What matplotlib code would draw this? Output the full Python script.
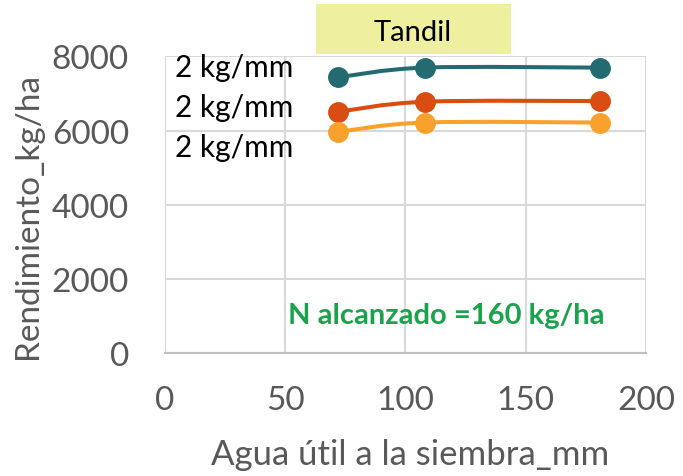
import numpy as np
import matplotlib
matplotlib.use("Agg")
import matplotlib.pyplot as plt
from matplotlib.path import Path
from matplotlib.patches import PathPatch, Rectangle

plt.rcParams['font.family'] = ['Lato', 'DejaVu Sans']

# data
agua = [72, 108, 181]
serie_alta = [7440, 7700, 7700]
serie_media = [6510, 6780, 6800]
serie_baja = [5970, 6220, 6220]
colores = ['#236B70', '#D94C12', '#F9A12C']
etiquetas = ['2 kg/mm', '2 kg/mm', '2 kg/mm']
xticks = [0, 50, 100, 150, 200]
yticks = [0, 2000, 4000, 6000, 8000]

gris = '#595959'


def smooth_path(x, y):
    # Excel-like smoothed line: Catmull-Rom as cubic bezier segments
    p = np.column_stack([x, y]).astype(float)
    n = len(p)
    verts = [p[0]]
    codes = [Path.MOVETO]
    for i in range(n - 1):
        p0 = p[i - 1] if i > 0 else p[i]
        p3 = p[i + 2] if i + 2 < n else p[i + 1]
        c1 = p[i] + (p[i + 1] - p0) / 6
        c2 = p[i + 1] - (p3 - p[i]) / 6
        verts += [c1, c2, p[i + 1]]
        codes += [Path.CURVE4] * 3
    return Path(verts, codes)


fig = plt.figure(figsize=(6.83, 4.77), dpi=100)
ax = fig.add_axes([0.2416, 0.2572, 0.7042, 0.6223])

for ys, c in zip([serie_alta, serie_media, serie_baja], colores):
    ax.add_patch(PathPatch(smooth_path(agua, ys), facecolor='none',
                           edgecolor=c, lw=2.9, zorder=3))
    ax.plot(agua, ys, 'o', color=c, ms=14, zorder=4)

ax.set_xlim(0, 200)
ax.set_ylim(0, 8000)
ax.set_xticks(xticks)
ax.set_yticks(yticks)
ax.grid(True, color='#D9D9D9', lw=1.5)
ax.set_axisbelow(True)
for s in ['top', 'right', 'left']:
    ax.spines[s].set_visible(False)
ax.spines['bottom'].set_color('#BFBFBF')
ax.spines['bottom'].set_linewidth(1.5)
ax.tick_params(length=0, labelsize=24, labelcolor=gris)
ax.tick_params(axis='y', pad=26)
ax.tick_params(axis='x', pad=23)

ax.set_xlabel('Agua útil a la siembra_mm', fontsize=25, color=gris)
ax.set_ylabel('Rendimiento_kg/ha', fontsize=24, color=gris)
ax.xaxis.set_label_coords(0.51, -0.34)
ax.xaxis.label.set_va('center')
ax.yaxis.set_label_coords(-0.285, 0.465)
ax.yaxis.label.set_va('center')

for lab, yy in zip(etiquetas, [0.966, 0.831, 0.696]):
    ax.text(0.02, yy, lab, transform=ax.transAxes, fontsize=21.5,
            color='black', ha='left', va='center')

ax.text(0.584, 0.13, 'N alcanzado =160 kg/ha', transform=ax.transAxes,
        fontsize=21, fontweight='bold', color='#1AA34A', ha='center', va='center')

fig.patches.append(Rectangle((0.4627, 0.8847), 0.2855, 0.1048,
                             transform=fig.transFigure, facecolor='#EEF0A0',
                             edgecolor='none', zorder=0))
fig.text(0.6047, 0.9308, 'Tandil', fontsize=21, color='black',
         ha='center', va='center')

fig.savefig('out.png', dpi=100)
